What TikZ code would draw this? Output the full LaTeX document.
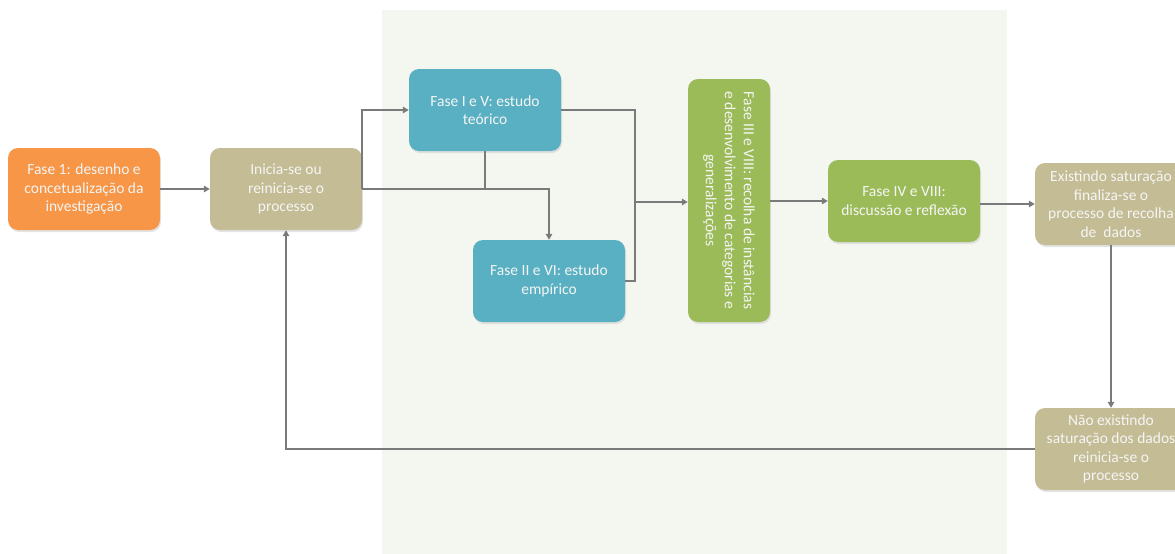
\documentclass[tikz,border=0pt]{standalone}
\usepackage{fontspec}
\setmainfont{Carlito}
\usetikzlibrary{arrows.meta,shadows}

\definecolor{phaseorange}{HTML}{F79646}
\definecolor{phasetan}{HTML}{C4BC95}
\definecolor{phaseblue}{HTML}{58B0C2}
\definecolor{phasegreen}{HTML}{9BBB59}
\definecolor{panelbg}{HTML}{F4F6F0}
\definecolor{linkgray}{HTML}{7A7A7A}

\tikzset{
  phasebox/.style={rounded corners=10pt, minimum width=152pt, minimum height=82pt,
    align=center, text=white!96!black, inner sep=0pt,
    font=\fontsize{15.5}{18.5}\selectfont,
    drop shadow={shadow xshift=1pt, shadow yshift=-2pt, fill=black!18, opacity=0.6}},
  link/.style={draw=linkgray, line width=1.6pt},
  arrowlink/.style={link, -{Triangle[length=6pt,width=6.5pt]}},
}

\begin{document}
\begin{tikzpicture}[x=1pt, y=-1pt]
  \useasboundingbox (0,0) rectangle (1175,554);
  % shaded central panel
  \fill[panelbg] (382,10) rectangle (1007,560);

  % phase boxes
  \node[phasebox, fill=phaseorange] (design) at (84,189)
    {Fase 1: desenho e\\concetualização da\\investigação};
  \node[phasebox, fill=phasetan] (start) at (286,189)
    {Inicia-se ou\\reinicia-se o\\processo};
  \node[phasebox, fill=phaseblue] (theory) at (485,110)
    {Fase I e V: estudo\\teórico};
  \node[phasebox, fill=phaseblue] (empiric) at (549,281)
    {Fase II e VI: estudo\\empírico};
  \node[phasebox, fill=phasegreen, minimum width=243pt, minimum height=82pt,
        rotate=-90, font=\fontsize{15.5}{19}\selectfont] (collect) at (729,200.5)
    {Fase III e VIII: recolha de instâncias\\e desenvolvimento de categorias e\\generalizações};
  \node[phasebox, fill=phasegreen] (discuss) at (904,201)
    {Fase IV e VIII:\\discussão e reflexão};
  \node[phasebox, fill=phasetan] (saturated) at (1111,204)
    {Existindo saturação\\finaliza-se o\\processo de recolha\\de\ \ dados};
  \node[phasebox, fill=phasetan] (unsaturated) at (1111,449)
    {Não existindo\\saturação dos dados\\reinicia-se o\\processo};

  % connectors
  \coordinate (merge) at (635,202);
  \draw[arrowlink] (design) -- (start);
  \draw[arrowlink] (start.east) |- (theory.west);
  \draw[arrowlink] (start.east) -| (empiric.north);
  \draw[link] (theory.south) -- (theory.south |- start.east);
  \draw[link] (theory.east) -| (merge);
  \draw[link] (empiric.east) -| (merge);
  \draw[arrowlink] (merge) -- (collect.south |- merge);
  \draw[arrowlink] (collect.north |- discuss) -- (discuss.west);
  \draw[arrowlink] (discuss.east |- saturated) -- (saturated);
  \draw[arrowlink] (saturated) -- (unsaturated);
  \draw[arrowlink] (unsaturated.west) -| (start.south);
\end{tikzpicture}
\end{document}
